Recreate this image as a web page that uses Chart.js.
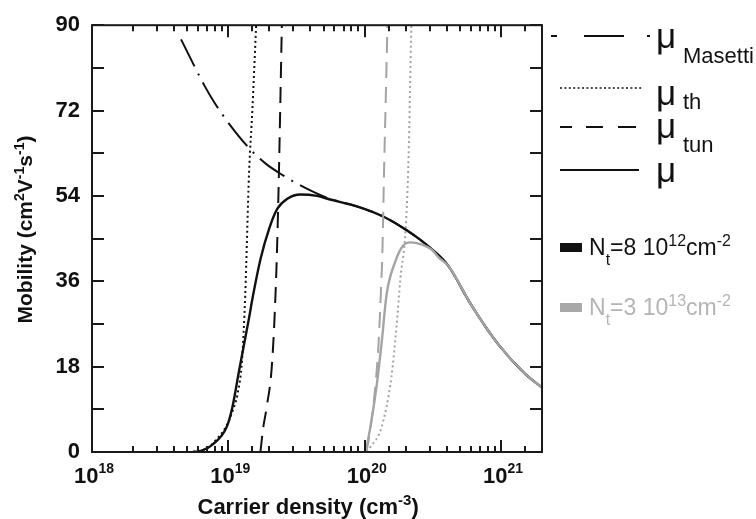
<!DOCTYPE html>
<html>
<head>
<meta charset="utf-8">
<script src="https://cdn.jsdelivr.net/npm/chart.js@4.4.0/dist/chart.umd.min.js"></script>
<style>
body { margin: 0; background: #fff; }
#wrap { position: relative; width: 756px; height: 519px; font-family: "Liberation Sans", Arial, sans-serif; color: #111; }
#overlay { position: absolute; left: 0; top: 0; width: 756px; height: 519px; pointer-events: none; overflow: hidden; }
#overlay .t { position: absolute; white-space: nowrap; line-height: 1; }
#overlay .lo { position: relative; }
#overlay svg { position: absolute; left: 0; top: 0; }
.b { font-weight: bold; }
</style>
</head>
<body>
<div id="wrap">
<canvas id="mobility" width="756" height="519"></canvas>
<div id="overlay">
  <svg width="756" height="519">
    <path d="M551 36 H557 M584 36 H624 M647 36 H650" stroke="#111" stroke-width="2" fill="none"/>
    <line x1="560" y1="88" x2="642" y2="88" stroke="#111" stroke-width="1.6" stroke-dasharray="2,2.4"/>
    <path d="M560 127 H572 M586 127 H603 M618 127 H636" stroke="#111" stroke-width="2" fill="none"/>
    <line x1="560" y1="170" x2="639" y2="170" stroke="#111" stroke-width="2"/>
    <rect x="560" y="243" width="22" height="9" fill="#111"/>
    <rect x="560" y="303" width="22" height="9" fill="#a8a8a8"/>
  </svg>
  <div class="t" style="left:656px;top:18px;font-size:35px">μ</div>
  <div class="t" style="left:683px;top:45px;font-size:22px">Masetti</div>
  <div class="t" style="left:656px;top:75px;font-size:35px">μ</div>
  <div class="t" style="left:683px;top:91px;font-size:22px">th</div>
  <div class="t" style="left:656px;top:108px;font-size:35px">μ</div>
  <div class="t" style="left:683px;top:134px;font-size:22px">tun</div>
  <div class="t" style="left:656px;top:152px;font-size:35px">μ</div>
  <div class="t" style="left:589px;top:236px;font-size:23px;">N<span class="lo" style="font-size:16px;top:10px">t</span>=8 10<span class="lo" style="font-size:16px;top:-9px">12</span>cm<span class="lo" style="font-size:16px;top:-9px">-2</span></div>
  <div class="t" style="left:589px;top:296px;font-size:23px;color:#b4b4b4;">N<span class="lo" style="font-size:16px;top:10px">t</span>=3 10<span class="lo" style="font-size:16px;top:-9px">13</span>cm<span class="lo" style="font-size:16px;top:-9px">-2</span></div>
  <div class="t b" id="xtitle" style="top:496px;font-size:22px;">Carrier density (cm<span class="lo" style="font-size:15px;top:-9px">-3</span>)</div>
  <div class="t b" id="ytitle" style="font-size:21px;">Mobility (cm<span class="lo" style="font-size:14px;top:-8px">2</span>V<span class="lo" style="font-size:14px;top:-8px">-1</span>s<span class="lo" style="font-size:14px;top:-8px">-1</span>)</div>
</div>
</div>
<script>
// carrier density (cm^-3) and mobility (cm^2/Vs)
var masettiN  = [4.5e18, 6.7e18, 7.9e18, 1.02e19, 1.45e19, 1.9e19, 2.5e19, 3.2e19, 4.1e19, 5.5e19, 9e19, 1.38e20, 2e20, 3.1e20, 4.1e20, 6e20, 9.5e20, 1.5e21, 2e21];
var masettiMu = [87, 77.2, 73.7, 69.1, 63.8, 60.7, 58.4, 56.6, 55.0, 53.4, 51.7, 49.6, 46.9, 42.8, 39.3, 31.2, 22.8, 16.5, 13.6];

// Nt = 8e12 cm^-2 (black)
var thN1  = [5.5e18, 7e18, 8.1e18, 9.6e18, 1.08e19, 1.17e19, 1.26e19, 1.33e19, 1.42e19, 1.5e19, 1.6e19];
var thMu1 = [0, 0.8, 2.5, 5.3, 8.8, 12.3, 19.3, 33, 59, 72, 90];
var tunN1  = [1.72e19, 1.8e19, 1.9e19, 2.1e19, 2.25e19, 2.33e19, 2.47e19];
var tunMu1 = [0, 5, 9, 19.3, 38, 54, 90];
var muN1  = [5.5e18, 6.2e18, 7.6e18, 9.7e18, 1.07e19, 1.2e19, 1.42e19, 1.5e19, 1.73e19, 2e19, 2.29e19, 2.71e19, 3.39e19, 4.47e19, 5.5e19, 9e19, 1.38e20, 2e20, 3.1e20, 4.1e20, 6e20, 9.5e20, 1.5e21, 2e21];
var muMu1 = [0, 0.2, 1.5, 5.2, 9.4, 17.2, 28.3, 32.2, 40.9, 47.2, 51.3, 53.4, 54.3, 54.0, 53.3, 51.7, 49.6, 46.9, 42.8, 39.3, 31.2, 22.8, 16.5, 13.6];

// Nt = 3e13 cm^-2 (grey)
var thN2  = [1.04e20, 1.1e20, 1.33e20, 1.57e20, 1.71e20, 1.83e20, 2e20, 2.1e20, 2.2e20];
var thMu2 = [0, 1, 5.2, 15.7, 26.2, 36.6, 47.1, 62.2, 90];
var tunN2  = [1.03e20, 1.07e20, 1.17e20, 1.26e20, 1.31e20, 1.35e20, 1.39e20, 1.43e20, 1.47e20];
var tunMu2 = [0, 2.5, 10.9, 22, 32.4, 42.3, 60, 75, 90];
var muN2  = [1e20, 1.02e20, 1.1e20, 1.22e20, 1.33e20, 1.45e20, 1.68e20, 1.9e20, 2.17e20, 2.6e20, 3.1e20, 3.5e20, 4.1e20, 6e20, 9.5e20, 1.5e21, 2e21];
var muMu2 = [0, 0.4, 5.2, 13.6, 22.8, 33.3, 40.2, 43.4, 44.2, 43.8, 42.7, 41, 39.3, 31.2, 22.8, 16.5, 13.6];

var xDecades = [1e18, 1e19, 1e20, 1e21];
var xExponents = ["18", "19", "20", "21"];
var yLabelTicks = [0, 18, 36, 54, 72, 90];

function pts(xs, ys) {
    return xs.map(function (x, i) { return { x: x, y: ys[i] }; });
}

function line(data, color, dash, width, order) {
    return {
        data: data,
        borderColor: color,
        borderDash: dash,
        borderWidth: width,
        pointRadius: 0,
        fill: false,
        cubicInterpolationMode: "monotone",
        order: order
    };
}

var BLACK = "#111111";
var GREY = "#a4a4a4";

// inward tick marks on all four sides plus the frame
var frame = {
    id: "frame",
    afterDraw: function (chart) {
        var ctx = chart.ctx, a = chart.chartArea;
        var xs = chart.scales.x, ys = chart.scales.y;
        ctx.save();
        ctx.strokeStyle = "#1a1a1a";
        ctx.lineWidth = 2;
        xs.ticks.forEach(function (t) {
            var px = Math.round(xs.getPixelForValue(t.value));
            if (px < a.left + 1 || px > a.right - 1) return;
            var major = xDecades.indexOf(t.value) >= 0;
            var len = major ? 12 : 6;
            ctx.beginPath();
            ctx.moveTo(px, a.bottom); ctx.lineTo(px, a.bottom - len);
            ctx.moveTo(px, a.top); ctx.lineTo(px, a.top + len);
            ctx.stroke();
        });
        ys.ticks.forEach(function (t) {
            var py = Math.round(ys.getPixelForValue(t.value));
            ctx.beginPath();
            ctx.moveTo(a.left, py); ctx.lineTo(a.left + 12, py);
            ctx.moveTo(a.right, py); ctx.lineTo(a.right - 12, py);
            ctx.stroke();
        });
        ctx.strokeRect(a.left, a.top, a.right - a.left, a.bottom - a.top);
        ctx.restore();
    }
};

var ctx = document.getElementById("mobility").getContext("2d");
var chart = new Chart(ctx, {
    type: "line",
    data: {
        datasets: [
            line(pts(masettiN, masettiMu), BLACK, [30, 8, 2, 8], 2, 6),
            line(pts(thN1, thMu1), BLACK, [2, 3], 2, 5),
            line(pts(tunN1, tunMu1), BLACK, [16, 9], 2, 5),
            line(pts(muN1, muMu1), BLACK, [], 2.4, 4),
            line(pts(thN2, thMu2), GREY, [2, 3], 2, 3),
            line(pts(tunN2, tunMu2), GREY, [16, 9], 2, 3),
            line(pts(muN2, muMu2), GREY, [], 2.4, 1)
        ]
    },
    options: {
        responsive: false,
        animation: false,
        layout: { padding: { left: 0, right: 214, top: 22, bottom: 0 } },
        plugins: { legend: { display: false }, tooltip: { enabled: false } },
        scales: {
            x: {
                type: "logarithmic",
                min: 1e18,
                max: 2e21,
                grid: { display: false, drawTicks: false },
                border: { display: false },
                ticks: {
                    autoSkip: false,
                    maxRotation: 0,
                    callback: function () { return ""; }
                },
                afterFit: function (s) { s.height = 67; }
            },
            y: {
                min: 0,
                max: 90,
                grid: { display: false, drawTicks: false },
                border: { display: false },
                ticks: {
                    stepSize: 9,
                    autoSkip: false,
                    padding: 12,
                    color: "#111",
                    font: { family: "Liberation Sans", size: 22, weight: "bold" },
                    callback: function (v) { return yLabelTicks.indexOf(v) >= 0 ? String(v) : ""; }
                },
                afterFit: function (s) { s.width = 92; }
            }
        }
    },
    plugins: [frame]
});

// decade labels 10^n and axis titles, placed from the chart's own scales
var overlay = document.getElementById("overlay");
var xs = chart.scales.x, area = chart.chartArea;
xDecades.forEach(function (v, i) {
    var d = document.createElement("div");
    d.className = "t b";
    d.style.fontSize = "22px";
    d.style.top = "465px";
    d.innerHTML = "10<span class=\"lo\" style=\"font-size:14px;top:-10px\">" + xExponents[i] + "</span>";
    overlay.appendChild(d);
    d.style.left = (xs.getPixelForValue(v) - d.offsetWidth / 2 + 2) + "px";
});
var xt = document.getElementById("xtitle");
xt.style.left = ((area.left + area.right) / 2 - 9 - xt.offsetWidth / 2) + "px";
var yt = document.getElementById("ytitle");
yt.style.left = (25 - yt.offsetWidth / 2) + "px";
yt.style.top = (229 - yt.offsetHeight / 2) + "px";
yt.style.transform = "rotate(-90deg)";
</script>
</body>
</html>
